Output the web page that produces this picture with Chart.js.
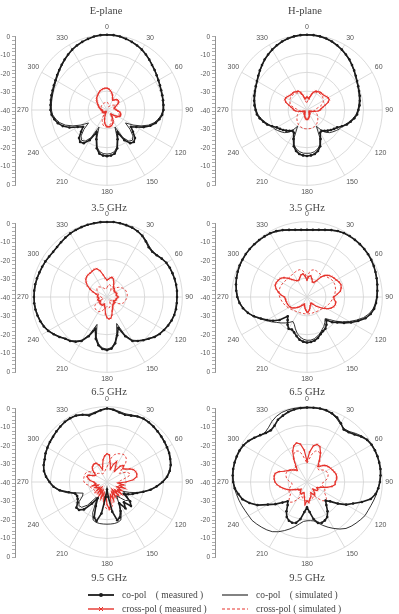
<!DOCTYPE html>
<html>
<head>
<meta charset="utf-8">
<script src="https://cdn.jsdelivr.net/npm/chart.js@4.4.1/dist/chart.umd.min.js"></script>
<style>
  body { margin: 0; width: 399px; height: 614px; position: relative; overflow: hidden; background: #fff;
         font-family: "Liberation Serif", "DejaVu Serif", serif; color: #444; }
  canvas { position: absolute; }
  .cap { position: absolute; transform: translate(-50%, -50%); font-size: 10.5px; white-space: nowrap; }
  .lg { position: absolute; font-size: 9.5px; white-space: pre; transform: translateY(-50%); color: #444; }
  svg { position: absolute; }
</style>
</head>
<body>
<div id="root"></div>
<script>
// ── Diagramy promieniowania: E-plane / H-plane przy 3.5, 6.5 i 9.5 GHz ─────────
// Każdy panel to wykres radarowy (kąt co 5°, skala -40..0 dB) + osobna oś liniowa z lewej.

const ANGLES = [0, 5, 10, 15, 20, 25, 30, 35, 40, 45, 50, 55,
  60, 65, 70, 75, 80, 85, 90, 95, 100, 105, 110, 115,
  120, 125, 130, 135, 140, 145, 150, 155, 160, 165, 170, 175,
  180, 185, 190, 195, 200, 205, 210, 215, 220, 225, 230, 235,
  240, 245, 250, 255, 260, 265, 270, 275, 280, 285, 290, 295,
  300, 305, 310, 315, 320, 325, 330, 335, 340, 345, 350, 355];

const PLANES = ['E-plane', 'H-plane'];
const FREQS = ['3.5 GHz', '6.5 GHz', '9.5 GHz'];

// E-plane 3.5 GHz
const E35_CO_MEAS = [0, -0.1, -0.4, -0.9, -1.5, -2.2, -3, -4, -5.1, -6.2, -7, -7.8,
  -8.5, -9, -9.4, -9.6, -9.8, -9.9, -10, -10.6, -11.8, -13.3, -15.5, -18.5,
  -22, -24.5, -22, -19, -17.8, -18.5, -21.5, -27, -23.5, -19, -16.5, -15.7,
  -15.5, -15.7, -16.5, -19, -23.5, -27, -21.5, -18.5, -17.8, -19, -22, -24.5,
  -22, -18, -15, -13, -11.6, -10.5, -10, -9.9, -9.7, -9.5, -9.3, -8.9,
  -8.4, -7.7, -6.9, -6, -5, -4, -3, -2.2, -1.5, -0.9, -0.4, -0.1];
const E35_CO_SIM = [0, -0.1, -0.3, -0.8, -1.4, -2.1, -2.9, -3.9, -5, -6, -6.9, -7.7,
  -8.4, -9, -9.4, -9.7, -9.9, -10.1, -10.3, -11, -12.3, -14, -16.5, -20,
  -24, -28, -24, -20.5, -19, -19.8, -23, -30, -24, -19.5, -17.5, -16.8,
  -16.6, -16.8, -17.5, -19.5, -24, -30, -23, -19.8, -19, -20.5, -24, -28,
  -24, -20, -16.5, -14, -12.3, -11, -10.5, -10.3, -10.2, -10, -9.7, -9.3,
  -8.8, -8, -7.1, -6.2, -5.2, -4.1, -3, -2.2, -1.5, -0.9, -0.4, -0.1];
const E35_X_MEAS = [-28.4, -28.8, -29.5, -30.5, -31.5, -33, -34, -33.5, -32.8, -32.3, -32.2, -32.5,
  -33.2, -34.5, -35.5, -36, -36, -35.5, -35, -34, -33, -32.5, -32.3, -32.3,
  -33, -34.5, -36, -37, -36.5, -35, -33.5, -32.5, -31.8, -31.3, -31, -31,
  -31.2, -31.8, -33, -35, -37, -38.5, -39, -39, -38.5, -38, -38, -37.8,
  -37.5, -37.5, -37.5, -37.5, -37.5, -37.2, -37, -36.8, -36.5, -36, -35.5, -35,
  -34.5, -33.8, -33, -32.3, -31.5, -31, -30.5, -29.8, -29.2, -28.8, -28.5, -28.4];
const E35_X_SIM = [-36, -36, -36.5, -37, -37.5, -38, -38, -37.5, -37, -36.5, -36, -35.5,
  -35, -35, -35.5, -36, -36, -35.5, -35, -34.5, -34, -33.5, -33.2, -33,
  -33, -33.2, -33.8, -34.5, -35.5, -36, -35.5, -34.5, -33.5, -32.5, -31.8, -31.3,
  -31, -31, -31.2, -31.8, -32.8, -34, -35.5, -37, -38, -38.5, -38.5, -38,
  -37.5, -37.5, -37.5, -37.5, -37.5, -37.5, -37.5, -37.5, -37.5, -37, -37, -36.8,
  -36.5, -36.5, -36.3, -36.2, -36, -36, -36, -36, -36, -36, -36, -36];

// H-plane 3.5 GHz
const H35_CO_MEAS = [0, -0.1, -0.3, -0.7, -1.3, -2.1, -3, -4, -5, -6.2, -7.3, -8.4,
  -9.3, -10, -10.6, -11, -11.5, -12, -12.7, -13.3, -14.5, -16, -17.5, -19.5,
  -21.5, -22.5, -23.5, -24.5, -25.5, -26.5, -26, -23, -19.5, -17.5, -16.3, -15.8,
  -15.6, -15.8, -16.3, -17.5, -19.5, -23, -26, -26.5, -25.5, -24.5, -23.5, -22.5,
  -21.5, -19.5, -17.5, -16, -14.5, -13.3, -12.7, -12, -11.5, -11, -10.6, -10,
  -9.3, -8.4, -7.3, -6.2, -5, -4, -3, -2.1, -1.3, -0.7, -0.3, -0.1];
const H35_CO_SIM = [0, -0.1, -0.3, -0.8, -1.4, -2.2, -3.1, -4.1, -5.2, -6.4, -7.5, -8.6,
  -9.5, -10.2, -10.8, -11.3, -11.8, -12.4, -13, -13.8, -15, -16.5, -18, -19.5,
  -20, -21, -22, -23, -24.5, -27, -30, -24, -20, -18.5, -17.5, -17,
  -17, -17, -17.5, -18.5, -20, -24, -30, -27, -24.5, -23, -22, -21,
  -20, -19.5, -18, -16.5, -15, -13.8, -13, -12.4, -11.8, -11.3, -10.8, -10.2,
  -9.5, -8.6, -7.5, -6.4, -5.2, -4.1, -3.1, -2.2, -1.4, -0.8, -0.3, -0.1];
const H35_X_MEAS = [-33, -33.5, -34, -32, -30, -29, -28.7, -28.3, -28.2, -28.3, -28, -27.5,
  -27, -27, -28, -30, -31.5, -32.5, -33, -34, -36, -37, -38, -38.5,
  -38.5, -38.5, -38.5, -38, -38, -37.5, -37.5, -37, -36.5, -36, -35.5, -35,
  -35, -35, -35.5, -36, -36.5, -37, -37.5, -37.5, -38, -38, -38.5, -38.5,
  -38.5, -38.5, -38, -37, -36, -34, -33, -32.5, -31.5, -30, -28, -27,
  -27, -27.5, -28, -28.3, -28.2, -28.3, -28.7, -29, -30, -32, -34, -33.5];
const H35_X_SIM = [-36, -35, -33, -31, -30, -29.5, -29.2, -29, -29, -29, -29.2, -29.5,
  -30, -30.5, -31.5, -33, -34.5, -35.5, -36, -36, -35.5, -35, -34.5, -34,
  -33.5, -33, -32.5, -32, -31.5, -31, -30.7, -30.4, -30.2, -30, -30, -30,
  -30, -30, -30, -30.2, -30.4, -30.7, -31, -31.5, -32, -32.5, -33, -33.5,
  -34, -34.5, -35, -35.5, -36, -36, -35.5, -34.5, -33, -31.5, -30.5, -30,
  -29.5, -29.2, -29, -29, -29, -29.2, -29.5, -30, -31, -33, -35, -36];

// E-plane 6.5 GHz
const E65_CO_MEAS = [-0.2, 0, -0.2, -0.5, -0.8, -1.5, -2.5, -4, -5.5, -6, -5.5, -4.5,
  -3.6, -3.2, -3, -2.8, -2.7, -2.7, -2.8, -2.8, -2.8, -3, -3.5, -4.2,
  -5, -5.8, -7, -8.7, -10, -11.5, -13, -17, -22.5, -19, -15, -12.5,
  -11.8, -12.3, -14, -17, -22, -17, -13, -11, -9.5, -8.7, -7, -5.5,
  -4, -3, -2.3, -1.8, -1.4, -1.2, -1.2, -1.2, -1.3, -1.5, -1.8, -2,
  -2.2, -2.5, -2.7, -2.5, -2, -1.5, -1, -0.7, -0.5, -0.3, -0.2, -0.1];
const E65_CO_SIM = [-0.3, -0.1, -0.1, -0.4, -0.8, -1.4, -2.3, -3.6, -5, -5.7, -5.3, -4.5,
  -3.8, -3.4, -3.1, -2.9, -2.8, -2.8, -2.9, -3, -3, -3.2, -3.6, -4.3,
  -5.1, -6, -7.3, -8.8, -10.2, -11.8, -13.5, -18, -25, -20, -15.5, -13,
  -12.3, -12.8, -14.5, -18, -24.5, -18, -13.5, -11.5, -9.8, -8.8, -7.2, -5.6,
  -4.2, -3.2, -2.5, -2, -1.6, -1.4, -1.4, -1.4, -1.5, -1.7, -2, -2.2,
  -2.4, -2.6, -2.7, -2.5, -2.1, -1.6, -1.1, -0.8, -0.6, -0.4, -0.3, -0.2];
const E65_X_MEAS = [-31, -30.5, -29.5, -29.2, -30, -31.5, -33, -34, -34, -34.5, -35, -35,
  -35, -34.8, -34.5, -34.8, -35, -34.5, -34, -34.5, -35, -35, -35, -35.5,
  -36, -35.5, -35, -35, -35, -34.5, -34, -33, -32, -30, -28.5, -28.3,
  -29, -31, -34, -35, -36, -35.5, -35, -35, -35, -35, -35, -35.5,
  -36, -35.5, -35, -35, -35.5, -35.5, -35, -35, -35, -34, -32, -30,
  -28, -26.5, -25.3, -24.7, -24.5, -24.5, -24.2, -23.9, -24, -25.5, -28, -30];
const E65_X_SIM = [-35, -34, -33, -33.5, -34, -35, -36, -35, -34, -33, -32, -31.2,
  -30.5, -30, -29.5, -29.3, -29.2, -29.2, -29.3, -29.6, -30, -30.3, -30.8, -31.5,
  -33, -35, -37, -37.5, -38, -37.5, -37, -36, -35, -34.5, -34, -34.5,
  -35, -34.5, -34, -33, -32, -31.5, -31, -31, -31, -31.2, -31.5, -32,
  -35, -37, -38, -38, -37.5, -37, -37, -36.5, -36, -35.5, -35, -34.5,
  -34, -33.5, -33, -33, -33, -33.5, -34, -34.5, -35, -35.5, -36, -35.5];

// H-plane 6.5 GHz
const H65_CO_MEAS = [-4.3, -4.2, -3.8, -3.1, -2.2, -1.3, -0.8, -0.5, -0.4, -0.3, -0.3, -0.4,
  -0.6, -0.9, -1.3, -1.7, -2.1, -2.5, -2.8, -3.2, -3.8, -5, -7, -10,
  -13, -16, -19, -21, -24, -22, -20.5, -20, -19, -17.5, -16.5, -16,
  -15.8, -16.2, -17, -18.5, -20, -21, -20.5, -22, -24, -25.5, -21, -18,
  -15.5, -13, -10, -7.5, -5.5, -4, -3, -2.3, -1.7, -1.2, -0.8, -0.5,
  -0.4, -0.3, -0.3, -0.4, -0.5, -0.7, -0.9, -1.4, -2.2, -3.1, -3.8, -4.2];
const H65_CO_SIM = [-4.5, -4.3, -3.9, -3.2, -2.3, -1.5, -0.9, -0.6, -0.4, -0.3, -0.3, -0.4,
  -0.6, -0.9, -1.3, -1.7, -2.1, -2.6, -3, -3.5, -4.3, -5.8, -8, -11,
  -14, -17, -20, -23, -25, -23.5, -22, -21, -19.5, -18.5, -17.5, -17,
  -17, -17.5, -18.5, -20, -22, -24, -25, -23.5, -22, -20.5, -19, -17,
  -15, -12.5, -9.8, -7.5, -5.6, -4.1, -3.1, -2.4, -1.8, -1.3, -0.9, -0.6,
  -0.4, -0.3, -0.3, -0.4, -0.5, -0.7, -1, -1.5, -2.3, -3.2, -3.9, -4.3];
const H65_X_MEAS = [-31, -29, -28.5, -30, -31.5, -31.5, -30, -27, -25, -23.8, -23, -22.5,
  -22, -21.2, -20.8, -21.2, -22, -24, -25.8, -25.5, -24.5, -24.4, -25, -26,
  -27.5, -29.5, -31.5, -33, -35, -36, -36, -35.5, -35, -34, -33, -32,
  -32, -33, -34, -35, -36, -35.5, -35, -34, -33, -32, -31, -30,
  -29.5, -29.2, -29, -28.8, -28.6, -28.5, -28, -26, -24.5, -23, -22, -22,
  -22.3, -22.8, -24, -26, -28, -29.3, -30, -30, -29, -27.8, -27.5, -29];
const H65_X_SIM = [-30, -27, -25.5, -25, -25.3, -25.7, -26, -26, -25.5, -25, -24.5, -24,
  -23.8, -23.8, -24, -24.3, -24.8, -25.3, -26, -26.5, -27, -27.5, -28, -28.5,
  -29, -29.5, -30, -30.3, -30.5, -30.7, -30.8, -31, -31, -31, -31, -31,
  -31, -31, -31, -31, -31, -30.8, -30.7, -30.5, -30.3, -30, -29.5, -29,
  -28.5, -28, -27.5, -27, -26.5, -26, -25.5, -25, -24.8, -24.8, -24.8, -25,
  -25.2, -25.5, -25.8, -26, -26, -25.8, -25.5, -25.3, -25, -25, -25.5, -27.5];

// E-plane 9.5 GHz
const E95_CO_MEAS = [-1, -1.5, -2.5, -3, -2.5, -1.6, -1.2, -1.3, -1.6, -2, -2.4, -2.8,
  -3.2, -3.6, -4.3, -5, -6.2, -8, -10.5, -13.5, -16.5, -20, -23, -25,
  -27, -29, -24, -22, -26, -23, -27, -23, -20, -19, -24, -32,
  -36, -32, -23, -18.5, -20, -26, -30, -26, -21, -19, -18.8, -21,
  -22, -22.5, -22, -19, -14.5, -11.5, -9.5, -7.5, -6, -5.2, -4.8, -4,
  -3.5, -3, -2.6, -2, -1.5, -1, -0.9, -1.1, -2, -3.4, -2.8, -1.8];
const E95_CO_SIM = [-0.8, -1.2, -2, -2.5, -2.1, -1.4, -1, -1.1, -1.4, -1.8, -2.2, -2.6,
  -3, -3.4, -4, -4.8, -6, -7.8, -10.2, -13.2, -16.5, -20, -23.5, -27,
  -30, -27, -25, -26, -29, -31, -28, -22, -18.5, -17.8, -17.6, -17.6,
  -17.6, -17.6, -17.6, -17.8, -18.5, -22, -29, -30, -24, -21, -20.5, -22,
  -25, -26, -23, -18, -14, -11.2, -9.2, -7.3, -5.8, -5, -4.6, -3.9,
  -3.3, -2.8, -2.4, -1.9, -1.4, -1, -0.8, -1, -1.8, -2.8, -2.4, -1.5];
const E95_X_MEAS = [-25, -25.5, -30, -33, -30, -28, -31, -33, -29, -27.6, -29, -28,
  -26, -24.5, -23.8, -23.6, -24, -26, -30, -34, -31, -33, -30, -34,
  -31, -33, -30, -34, -31, -35, -31, -34, -30, -33, -28, -25.6,
  -28, -33, -30, -34, -31, -35, -32, -35, -33, -36, -33, -35,
  -34, -33, -35, -32, -34, -33.5, -33, -31, -30, -29, -29.5, -32,
  -33, -32, -30, -29, -28.5, -28.2, -28.5, -30, -33, -31, -28, -26];
const E95_X_SIM = [-32, -30, -27, -25, -24, -23.5, -23, -23, -24, -26, -30, -32,
  -30, -28, -27, -28, -31, -33, -34, -33, -32, -33, -34, -32.5,
  -31, -32, -33, -31.5, -30, -31, -32, -31, -30, -28, -26, -25,
  -25.5, -27, -30, -31.5, -32, -31, -30, -31.5, -33, -32, -31, -32,
  -32, -31.5, -31, -30.5, -30, -28.5, -27.8, -27.5, -27.5, -27.5, -27.5, -28,
  -29, -31, -33, -33.5, -34, -34.5, -35, -35, -35, -34.5, -34, -33];

// H-plane 9.5 GHz
const H95_CO_MEAS = [-0.5, -0.4, -0.4, -0.6, -1.2, -2.2, -4, -6, -5.5, -4.3, -2.5, -1,
  -0.4, -0.2, -0.2, -0.3, -0.4, -0.8, -1.3, -2, -3, -5, -9, -13,
  -16, -20, -24, -26, -24, -21, -18.5, -17.5, -17, -17.5, -20, -24,
  -26.5, -24, -20, -17.5, -17, -17.3, -18.5, -21, -24, -25.5, -23, -19.5,
  -16, -11, -7.5, -4.5, -3, -1.5, -0.8, -0.4, -0.2, -0.2, -0.3, -0.5,
  -1, -2, -3.5, -4.8, -6, -6.5, -5.5, -3.5, -2.5, -1.5, -0.9, -0.6];
const H95_CO_SIM = [-0.3, -0.3, -0.4, -0.7, -1.5, -2.8, -4.5, -5.5, -5, -3.5, -2, -0.8,
  -0.3, -0.1, -0.1, -0.2, -0.4, -0.8, -1.3, -2, -2.6, -3.2, -3.8, -4.2,
  -4.4, -5.2, -6, -6.8, -7.8, -9.5, -11.5, -13.5, -15.5, -17.5, -19, -19.4,
  -19.4, -19, -17.5, -15.5, -13.5, -11.5, -9.5, -7.8, -6.8, -6, -5.2, -4.4,
  -4.2, -3.8, -3.2, -2.6, -2, -1.3, -0.8, -0.4, -0.2, -0.1, -0.1, -0.3,
  -0.8, -2, -3.5, -5, -5.5, -4.5, -2.8, -1.5, -0.7, -0.4, -0.3, -0.3];
const H95_X_MEAS = [-29, -24, -20.5, -19.3, -20, -23, -27, -30, -29, -27.5, -26.5, -26,
  -25.5, -25, -24.5, -24, -24, -24.2, -25, -25, -26.5, -29, -32, -33,
  -34, -33, -33, -34, -35, -33, -32, -33, -34, -32, -31, -29,
  -30, -28, -32, -34, -34, -33, -33, -34, -35, -34, -34, -33,
  -32, -30, -28.5, -27, -25.5, -24, -23, -22.5, -22.3, -22.5, -24, -26.5,
  -28, -29, -30, -31, -32, -30, -26, -22, -19.5, -18.5, -19.5, -23];
const H95_X_SIM = [-30, -28, -25, -23, -22.5, -23.5, -26, -29, -31, -31, -30, -29,
  -28.5, -28, -28, -28.5, -29, -30, -31, -32, -32, -31, -30, -29.5,
  -29.5, -28, -26.5, -26, -27, -29, -31, -32, -31, -30.5, -30, -30,
  -30, -30, -30.5, -31, -32, -31, -29, -27, -26, -26.5, -28, -29.5,
  -29, -29.5, -30, -31, -32, -32, -31, -30, -29, -28.5, -28, -28,
  -28.5, -29, -30, -31, -31, -29, -26, -23.5, -22.5, -23, -25, -28];

const PANELS = [
  { cx: 107, cy: 111, series: [E35_CO_MEAS, E35_CO_SIM, E35_X_MEAS, E35_X_SIM] },
  { cx: 307, cy: 111, series: [H35_CO_MEAS, H35_CO_SIM, H35_X_MEAS, H35_X_SIM] },
  { cx: 107, cy: 298, series: [E65_CO_MEAS, E65_CO_SIM, E65_X_MEAS, E65_X_SIM] },
  { cx: 307, cy: 298, series: [H65_CO_MEAS, H65_CO_SIM, H65_X_MEAS, H65_X_SIM] },
  { cx: 107, cy: 483, series: [E95_CO_MEAS, E95_CO_SIM, E95_X_MEAS, E95_X_SIM] },
  { cx: 307, cy: 483, series: [H95_CO_MEAS, H95_CO_SIM, H95_X_MEAS, H95_X_SIM] },
];
const FREQ_Y = [207, 391, 577];

const BLACK = '#1c1c1c';
const RED = '#e5332c';
const GRID = '#d2d2d2';
const SANS = "'Liberation Sans', Arial, sans-serif";

const STYLES = [
  { label: 'co-pol (measured)', borderColor: BLACK, borderWidth: 1.6, pointRadius: 1.3,
    pointBackgroundColor: BLACK, pointBorderWidth: 0 },
  { label: 'co-pol (simulated)', borderColor: BLACK, borderWidth: 0.9, pointRadius: 0 },
  { label: 'cross-pol (measured)', borderColor: RED, borderWidth: 1.2, pointRadius: 1.2,
    pointStyle: 'crossRot', pointBorderColor: RED, pointBorderWidth: 0.6 },
  { label: 'cross-pol (simulated)', borderColor: RED, borderWidth: 0.9, borderDash: [2.5, 2],
    pointRadius: 0 },
];

const POLAR_SIZE = 180;
const AXIS_W = 15;
const root = document.getElementById('root');

function addCanvas(left, top, w, h) {
  const c = document.createElement('canvas');
  c.width = w; c.height = h;
  c.style.left = left + 'px'; c.style.top = top + 'px';
  c.style.width = w + 'px'; c.style.height = h + 'px';
  root.appendChild(c);
  return c;
}

function addText(cls, text, x, y) {
  const d = document.createElement('div');
  d.className = cls;
  d.textContent = text;
  d.style.left = x + 'px'; d.style.top = y + 'px';
  root.appendChild(d);
}

function makePolar(p) {
  const c = addCanvas(p.cx - POLAR_SIZE / 2 - 1, p.cy - POLAR_SIZE / 2, POLAR_SIZE, POLAR_SIZE);
  new Chart(c, {
    type: 'radar',
    data: {
      labels: ANGLES,
      datasets: p.series.map((d, i) => ({ ...STYLES[i], data: d, fill: false, tension: 0 })),
    },
    options: {
      responsive: false,
      animation: false,
      plugins: { legend: { display: false }, tooltip: { enabled: false } },
      scales: {
        r: {
          min: -40, max: 0,
          ticks: { display: false, stepSize: 10 },
          grid: { circular: true, color: GRID, lineWidth: 0.8 },
          angleLines: { color: ctx => (ctx.index % 6 === 0 ? GRID : 'transparent'), lineWidth: 0.8 },
          pointLabels: {
            padding: 3,
            color: '#555',
            font: { family: SANS, size: 7 },
            callback: v => (v % 30 === 0 ? String(v) : ''),
          },
        },
      },
    },
  });
}

function makeAxis(p) {
  const c = addCanvas(p.cx - 107, p.cy - 80, 26, 160);
  new Chart(c, {
    type: 'scatter',
    data: { datasets: [] },
    options: {
      responsive: false,
      animation: false,
      layout: { padding: { top: 5, bottom: 5, left: 0, right: 0 } },
      plugins: { legend: { display: false }, tooltip: { enabled: false } },
      scales: {
        x: { display: false },
        y: {
          min: -40, max: 40,
          afterFit: s => { s.width = AXIS_W; },
          ticks: {
            stepSize: 2, autoSkip: false, maxTicksLimit: 50, padding: 2,
            color: '#555', font: { family: SANS, size: 6.5 },
            callback: v => (v % 10 === 0 ? String(Math.abs(v) - 40) : ''),
          },
          grid: { drawOnChartArea: false, tickLength: 3, color: '#888', lineWidth: 0.7 },
          border: { color: '#777', width: 0.8 },
        },
      },
    },
  });
}

PANELS.forEach((p, i) => {
  makeAxis(p);
  makePolar(p);
  const col = i % 2, row = Math.floor(i / 2);
  if (row === 0) addText('cap', PLANES[col], col === 0 ? 106 : 305, 10);
  addText('cap', FREQS[row], col === 0 ? 109 : 307, FREQ_Y[row]);
});

// legenda (dwa wiersze, dwie kolumny)
const LEGEND = [
  { x: 88, y: 595, text: 'co-pol    ( measured )', style: 0 },
  { x: 222, y: 595, text: 'co-pol    ( simulated )', style: 1 },
  { x: 88, y: 609, text: 'cross-pol ( measured )', style: 2 },
  { x: 222, y: 609, text: 'cross-pol ( simulated )', style: 3 },
];
LEGEND.forEach(l => {
  const s = STYLES[l.style];
  const ns = 'http://www.w3.org/2000/svg';
  const svg = document.createElementNS(ns, 'svg');
  svg.setAttribute('width', 28); svg.setAttribute('height', 8);
  svg.style.left = l.x + 'px'; svg.style.top = (l.y - 4) + 'px';
  const ln = document.createElementNS(ns, 'line');
  ln.setAttribute('x1', 0); ln.setAttribute('x2', 26); ln.setAttribute('y1', 4); ln.setAttribute('y2', 4);
  ln.setAttribute('stroke', s.borderColor); ln.setAttribute('stroke-width', s.borderWidth + 0.2);
  if (s.borderDash) ln.setAttribute('stroke-dasharray', '3 2');
  svg.appendChild(ln);
  if (l.style === 0) {
    const m = document.createElementNS(ns, 'circle');
    m.setAttribute('cx', 13); m.setAttribute('cy', 4); m.setAttribute('r', 2); m.setAttribute('fill', BLACK);
    svg.appendChild(m);
  } else if (l.style === 2) {
    const m = document.createElementNS(ns, 'path');
    m.setAttribute('d', 'M11 2 L15 6 M15 2 L11 6');
    m.setAttribute('stroke', RED); m.setAttribute('stroke-width', 1);
    svg.appendChild(m);
  }
  root.appendChild(svg);
  addText('lg', l.text, l.x + 34, l.y);
});
</script>
</body>
</html>
